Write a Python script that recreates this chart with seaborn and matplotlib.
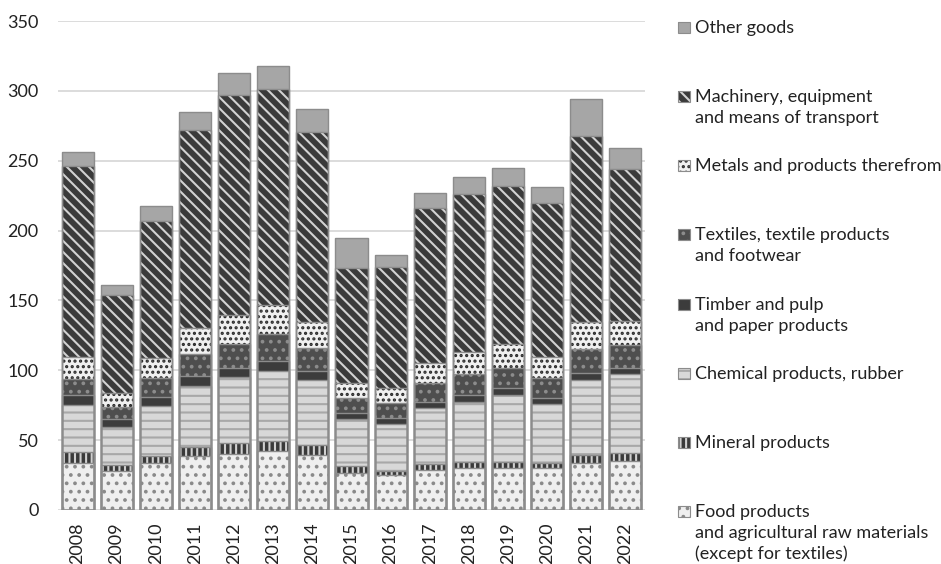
"""
Stacked bar chart: exports by commodity group, 2008-2022
Output: out.png
"""

import numpy as np
import matplotlib
matplotlib.use("Agg")
import matplotlib.pyplot as plt
import seaborn as sns
from matplotlib.patches import Rectangle

years = [str(y) for y in range(2008, 2023)]

# segment values, bottom to top
food = [33.4, 28.1, 33.4, 38.7, 39.9, 42.4, 39.4, 26.7, 25.1, 28.6, 29.8, 29.8, 29.8, 33.9, 35.1]
mineral = [7.9, 4.1, 5.3, 6.6, 7.8, 7.2, 7.1, 5.0, 3.0, 4.3, 4.3, 4.8, 4.1, 5.5, 5.5]
chemical = [33.9, 27.0, 35.7, 43.5, 47.3, 50.1, 46.6, 33.4, 33.5, 39.9, 43.4, 47.7, 42.0, 53.7, 56.8]
timber = [7.1, 5.7, 6.7, 7.1, 6.9, 7.2, 6.4, 4.1, 4.0, 4.7, 4.8, 4.8, 4.5, 4.8, 4.5]
textiles = [11.2, 8.6, 13.2, 15.8, 16.9, 18.9, 16.2, 10.8, 11.2, 13.2, 15.1, 14.8, 14.3, 17.1, 16.2]
metals = [15.8, 10.0, 14.3, 18.8, 20.8, 20.9, 19.1, 11.1, 10.7, 14.7, 15.9, 16.9, 15.0, 19.8, 17.2]
machinery = [136.9, 70.2, 98.5, 141.3, 157.7, 154.7, 135.8, 81.9, 86.2, 110.6, 112.9, 113.1, 110.3, 133.1, 108.8]
other = [10.3, 7.4, 10.5, 13.3, 15.7, 16.7, 16.2, 21.5, 8.8, 11.1, 12.0, 12.7, 11.4, 26.1, 15.3]

labels = [
    "Food products\nand agricultural raw materials\n(except for textiles)",
    "Mineral products",
    "Chemical products, rubber",
    "Timber and pulp\nand paper products",
    "Textiles, textile products\nand footwear",
    "Metals and products therefrom",
    "Machinery, equipment\nand means of transport",
    "Other goods",
]
series = [food, mineral, chemical, timber, textiles, metals, machinery, other]

# face colour, hatch, hatch colour
styles = [
    ("#efefef", "..", "#8a8a8a"),
    ("#3a3a3a", "|||", "#d0d0d0"),
    ("#d8d8d8", "--", "#a8a8a8"),
    ("#3c3c3c", "", "#3c3c3c"),
    ("#4e4e4e", "..", "#8c8c8c"),
    ("#f0f0f0", "...", "#2a2a2a"),
    ("#3a3a3a", "\\\\\\", "#d2d2d2"),
    ("#a6a6a6", "", "#a6a6a6"),
]

plt.rcParams["font.family"] = ["Lato", "DejaVu Sans"]
plt.rcParams["hatch.linewidth"] = 1.5

fig = plt.figure(figsize=(9.41, 5.64), dpi=100)
ax = fig.add_axes([58 / 941, 54 / 564, 587 / 941, 489 / 564])

cum = np.cumsum(np.array(series), axis=0)

# draw from the top layer down so lower layers cover the upper ones
for i in range(len(series) - 1, -1, -1):
    face, hatch, hcol = styles[i]
    sns.barplot(x=years, y=cum[i], ax=ax, color=face, saturation=1, width=0.82,
                hatch=hatch, edgecolor=hcol, linewidth=0, zorder=2)
    sns.barplot(x=years, y=cum[i], ax=ax, color="none", saturation=1, width=0.82,
                facecolor="none", edgecolor="#8c8c8c", linewidth=1.0, zorder=3)

ax.set_ylim(0, 350)
ax.set_xlim(-0.5, len(years) - 0.5)
ax.set_yticks(np.arange(0, 351, 50))
ax.yaxis.grid(True, color="#d9d9d9", linewidth=1.3, zorder=0)
ax.set_axisbelow(True)
for s in ax.spines.values():
    s.set_visible(False)
ax.tick_params(axis="y", length=0, pad=14, labelsize=13, labelcolor="#222222")
ax.tick_params(axis="x", length=0, pad=9, labelsize=13, labelcolor="#222222", rotation=90)
ax.set_xlabel("")
ax.set_ylabel("")

# legend, top to bottom, evenly spaced entries (pixel layout)
entry_step = 69.14
line_step = 21
for k, (lab, (face, hatch, hcol)) in enumerate(zip(labels[::-1], styles[::-1])):
    base = 564 - (33 + k * entry_step)
    fig.add_artist(Rectangle((678, base), 12, 11, transform=None,
                             facecolor=face, hatch=hatch, edgecolor=hcol, linewidth=0))
    fig.add_artist(Rectangle((678, base), 12, 11, transform=None,
                             facecolor="none", edgecolor="#8c8c8c", linewidth=0.8))
    for j, line in enumerate(lab.split("\n")):
        fig.text(695 / 941, (base - j * line_step) / 564, line, fontsize=13,
                 color="#222222", va="baseline", ha="left")

fig.savefig("out.png", dpi=100)
